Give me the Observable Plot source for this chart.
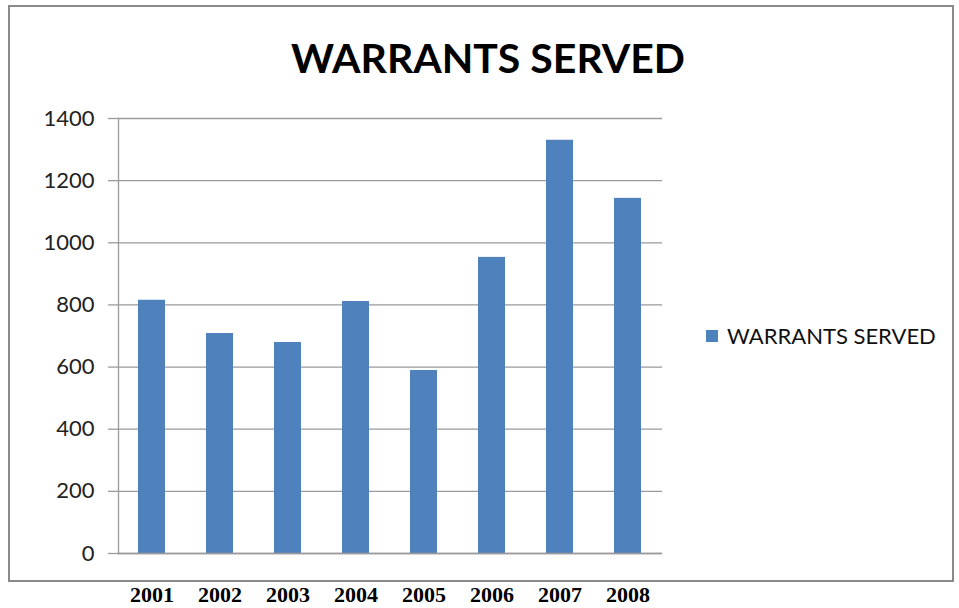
<!DOCTYPE html>
<html>
<head>
<meta charset="utf-8">
<script src="https://cdn.jsdelivr.net/npm/d3@7"></script>
<script src="https://cdn.jsdelivr.net/npm/@observablehq/plot@0.6"></script>
<style>
  html, body { margin: 0; padding: 0; background: #fff; }
  #wrap { position: relative; width: 959px; height: 608px; overflow: hidden; }
  #border { position: absolute; left: 8px; top: 5px; width: 942px; height: 573px; border: 2px solid #8a8a8a; }
  #title { position: absolute; left: 0; top: 37px; width: 976px; text-align: center; font: bold 41px Lato, "Open Sans", sans-serif; line-height: 1; color: #000; }
  #legend { position: absolute; left: 706px; top: 322px; display: flex; align-items: center; font: 22px Lato, "Open Sans", sans-serif; color: #111; }
  #legend .sw { width: 12px; height: 12px; background: #4F81BD; margin-right: 9px; }
  #chart { position: absolute; left: 0; top: 0; }
  .chart g[aria-label="y-axis tick label"] { font: 22px Lato, "Open Sans", sans-serif; fill: #222; }
  .chart g[aria-label="x-axis tick label"] { font: bold 22px "Liberation Serif", "Times New Roman", serif; fill: #000; }
</style>
</head>
<body>
<div id="wrap">
  <div id="border"></div>
  <div id="chart"></div>
  <div id="title">WARRANTS SERVED</div>
  <div id="legend"><div class="sw"></div><span>WARRANTS SERVED</span></div>
</div>
<script>
const years = ["2001", "2002", "2003", "2004", "2005", "2006", "2007", "2008"];
const warrants = [815, 708, 679, 811, 589, 953, 1330, 1143];
const yTicks = [0, 200, 400, 600, 800, 1000, 1200, 1400];
const seriesName = "WARRANTS SERVED";

const data = years.map((year, i) => ({year, value: warrants[i], series: seriesName}));
const gridColor = "#9a9a9a";

const chart = Plot.plot({
  className: "chart",
  width: 959,
  height: 608,
  marginLeft: 118,
  marginRight: 297,
  marginTop: 118,
  marginBottom: 55,
  style: {background: "transparent", overflow: "visible"},
  x: {domain: years, paddingInner: 0.6, paddingOuter: 0.3, label: null},
  y: {domain: [0, 1400], label: null},
  marks: [
    Plot.gridY(yTicks, {stroke: gridColor, strokeOpacity: 1, strokeWidth: 1.3}),
    Plot.axisY(yTicks, {tickSize: 10, tickPadding: 14, stroke: gridColor, strokeWidth: 1.3, tickFormat: d => String(d), label: null}),
    Plot.axisX({tickSize: 0, tickPadding: 33, label: null}),
    Plot.frame({anchor: "left", stroke: gridColor, strokeWidth: 1.3}),
    Plot.barY(data, {x: "year", y: "value", fill: "#4F81BD"}),
    Plot.ruleY([0], {stroke: gridColor, strokeWidth: 1.5})
  ]
});
document.getElementById("chart").appendChild(chart);
</script>
</body>
</html>
